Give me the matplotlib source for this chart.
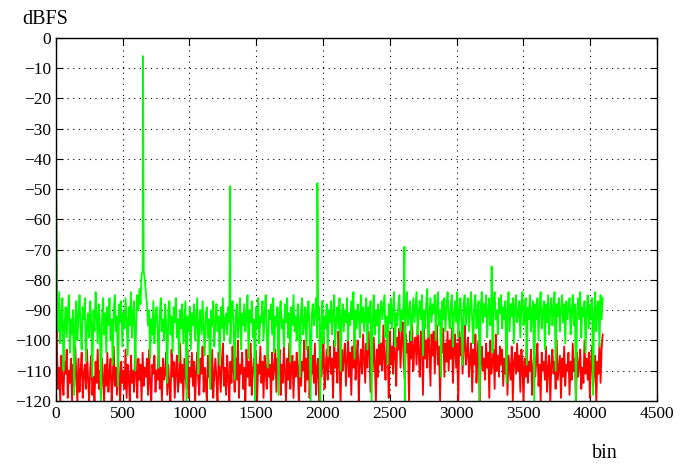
import matplotlib.pyplot as plt
import numpy as np

# spectrum values, one value every 8 bins
green_db = [
    -46, -88, -97, -84, -101, -92, -86, -110, -95, -89, -99, -91, -85, -104, -93, -98,
    -90, -118, -94, -87, -100, -92, -85, -96, -103, -89, -93, -86, -107, -95, -91, -99,
    -87, -94, -112, -90, -97, -84, -92, -101, -88, -95, -120, -93, -86, -98, -91, -104,
    -89, -95, -86, -100, -93, -108, -90, -85, -97, -92, -115, -88, -94, -87, -102, -91,
    -96, -86, -93, -105, -89, -95, -84, -99, -91, -87, -110, -94, -85, -90, -83, -88,
    -78, -77, -77, -80, -84, -88, -95, -90, -106, -93, -98, -87, -101, -92, -89, -96,
    -109, -91, -86, -97, -93, -100, -88, -95, -114, -90, -87, -98, -92, -104, -89, -94,
    -86, -99, -93, -107, -90, -96, -88, -101, -94, -87, -120, -92, -97, -89, -103, -91,
    -95, -88, -100, -93, -86, -111, -94, -90, -98, -87, -96, -105, -91, -89, -99, -93,
    -116, -90, -95, -87, -102, -94, -88, -97, -92, -108, -89, -96, -86, -100, -93, -91,
    -98, -89, -94, -101, -90, -87, -96, -113, -92, -88, -99, -94, -86, -103, -91, -95,
    -88, -97, -92, -85, -106, -90, -94, -87, -99, -93, -120, -89, -96, -86, -101, -92,
    -94, -87, -100, -91, -85, -97, -109, -90, -93, -88, -98, -86, -104, -92, -95, -89,
    -118, -91, -87, -96, -93, -102, -88, -94, -86, -99, -91, -107, -89, -95, -85, -97,
    -92, -100, -88, -93, -112, -90, -86, -98, -94, -89, -103, -91, -87, -96, -120, -92,
    -88, -95, -91, -86, -99, -93, -89, -120, -94, -87, -101, -92, -96, -88, -105, -90,
    -94, -87, -98, -91, -85, -102, -93, -89, -96, -86, -110, -92, -88, -97, -90, -94,
    -86, -100, -91, -95, -87, -93, -84, -106, -90, -96, -88, -92, -99, -85, -94, -89,
    -97, -91, -86, -103, -89, -94, -87, -120, -92, -85, -98, -90, -95, -88, -101, -91,
    -87, -93, -89, -85, -99, -92, -108, -88, -94, -86, -96, -90, -84, -102, -91, -95,
    -88, -85, -97, -90, -93, -86, -120, -89, -84, -95, -91, -87, -100, -92, -86, -94,
    -89, -84, -98, -91, -87, -93, -85, -105, -90, -96, -88, -83, -99, -92, -86, -94,
    -88, -91, -85, -100, -89, -84, -95, -90, -112, -87, -93, -86, -97, -89, -84, -92,
    -96, -88, -85, -102, -91, -87, -94, -84, -99, -90, -86, -93, -108, -88, -85, -95,
    -90, -86, -97, -89, -84, -93, -101, -88, -85, -96, -91, -87, -120, -89, -84, -94,
    -88, -92, -85, -99, -90, -86, -95, -89, -104, -87, -84, -93, -90, -98, -86, -91,
    -85, -96, -89, -93, -87, -114, -90, -84, -97, -88, -92, -86, -101, -89, -85, -94,
    -91, -87, -99, -88, -84, -95, -90, -86, -108, -89, -93, -85, -97, -90, -87, -120,
    -88, -93, -86, -100, -89, -84, -96, -91, -87, -103, -88, -94, -85, -98, -90, -86,
    -95, -89, -84, -110, -88, -92, -86, -97, -90, -85, -94, -88, -101, -87, -93, -89,
    -86, -98, -90, -85, -95, -88, -120, -91, -86, -93, -84, -99, -89, -92, -87, -104,
    -90, -85, -96, -88, -93, -86, -118, -91, -84, -97, -89, -87, -102, -85, -93, -86,
]

red_db = [
    -46, -104, -116, -109, -121, -105, -113, -118, -107, -111, -103, -119, -110, -114, -106, -120,
    -108, -115, -102, -112, -121, -106, -117, -110, -104, -119, -111, -108, -116, -103, -113, -120,
    -109, -105, -118, -112, -121, -107, -114, -103, -116, -110, -119, -106, -112, -121, -108, -115,
    -104, -117, -111, -106, -120, -113, -102, -115, -109, -118, -105, -112, -121, -107, -114, -110,
    -116, -103, -119, -108, -112, -121, -105, -114, -110, -117, -102, -111, -119, -106, -113, -108,
    -120, -104, -115, -109, -112, -106, -118, -103, -114, -121, -108, -111, -105, -117, -110, -113,
    -102, -116, -109, -120, -106, -113, -111, -104, -118, -108, -115, -121, -103, -112, -107, -119,
    -110, -105, -117, -113, -101, -114, -108, -120, -106, -111, -116, -103, -119, -109, -112, -104,
    -115, -107, -121, -110, -104, -113, -118, -106, -111, -102, -117, -109, -114, -120, -105, -112,
    -108, -116, -103, -119, -111, -106, -113, -121, -104, -110, -117, -107, -101, -115, -109, -118,
    -105, -112, -120, -107, -114, -102, -110, -117, -106, -113, -100, -119, -108, -111, -104, -116,
    -109, -121, -103, -112, -107, -115, -101, -118, -110, -106, -113, -104, -120, -108, -111, -102,
    -114, -107, -119, -105, -110, -116, -100, -112, -108, -121, -104, -113, -109, -103, -117, -106,
    -111, -103, -118, -108, -114, -102, -110, -120, -106, -113, -101, -116, -109, -105, -119, -107,
    -112, -104, -109, -121, -103, -115, -107, -110, -100, -117, -106, -113, -102, -119, -108, -111,
    -105, -114, -101, -118, -109, -106, -121, -104, -112, -108, -99, -116, -110, -103, -113, -107,
    -102, -111, -106, -119, -100, -109, -104, -114, -97, -108, -121, -103, -110, -106, -101, -115,
    -107, -99, -112, -104, -118, -102, -109, -96, -113, -105, -100, -120, -108, -103, -111, -98,
    -106, -114, -101, -109, -97, -104, -117, -102, -110, -99, -107, -121, -103, -112, -98, -108,
    -101, -110, -95, -106, -113, -100, -104, -119, -97, -108, -102, -111, -96, -105, -115, -99,
    -103, -96, -109, -100, -94, -107, -113, -98, -104, -101, -121, -97, -106, -95, -110, -102,
    -99, -108, -95, -104, -112, -97, -101, -118, -96, -106, -100, -109, -94, -103, -115, -98,
    -105, -97, -111, -100, -95, -108, -102, -120, -99, -104, -96, -112, -101, -107, -97, -110,
    -100, -106, -96, -114, -103, -98, -109, -101, -121, -97, -105, -99, -111, -102, -95, -108,
    -104, -99, -112, -106, -101, -117, -103, -108, -98, -114, -105, -100, -121, -107, -102, -110,
    -106, -113, -101, -109, -104, -119, -100, -111, -107, -103, -116, -98, -110, -105, -112, -102,
    -108, -103, -115, -106, -111, -100, -118, -105, -109, -113, -102, -120, -107, -104, -111, -101,
    -110, -105, -117, -103, -108, -121, -106, -112, -100, -114, -107, -110, -103, -118, -109, -104,
    -112, -106, -101, -115, -108, -120, -104, -110, -107, -113, -102, -117, -109, -105, -121, -108,
    -103, -111, -107, -116, -100, -113, -109, -105, -119, -106, -112, -102, -115, -108, -110, -104,
    -118, -107, -113, -101, -110, -106, -121, -104, -112, -108, -103, -116, -109, -114, -100, -111,
    -106, -113, -104, -119, -108, -102, -115, -110, -105, -121, -107, -111, -101, -114, -103, -98,
]

# harmonic spikes on the green trace
peak_bins = [652, 1305, 1958, 2610, 3263]
peak_db = [-6, -49, -48, -69, -75.5]

bins = np.linspace(0, 4095, len(green_db))

gx = np.concatenate([bins, peak_bins])
gy = np.concatenate([green_db, peak_db])
order = np.argsort(gx, kind='stable')
gx, gy = gx[order], gy[order]

plt.rcParams['font.family'] = ['Liberation Serif', 'DejaVu Serif']
plt.rcParams['font.size'] = 12.5

fig = plt.figure(figsize=(6.87, 4.66), dpi=100)
ax = fig.add_axes([0.0815, 0.1395, 0.8745, 0.779])

ax.plot(bins, red_db, color='#ff0000', lw=1.3)
ax.plot(gx, gy, color='#00ff00', lw=1.3)

ax.set_xlim(0, 4500)
ax.set_ylim(-120, 0)
ax.set_xticks(np.arange(0, 4501, 500))
ax.set_yticks(np.arange(-120, 1, 10))
ax.grid(True, color='black', linestyle=(0, (1, 4)), lw=0.8)
ax.tick_params(direction='in', length=5, top=True, right=True, labelsize=12.5)
for s in ax.spines.values():
    s.set_linewidth(1.0)

fig.text(0.032, 0.958, 'dBFS', fontsize=14.5, va='center', ha='left')
fig.text(0.862, 0.026, 'bin', fontsize=14.5, va='center', ha='left')

fig.savefig('out.png', dpi=100)
